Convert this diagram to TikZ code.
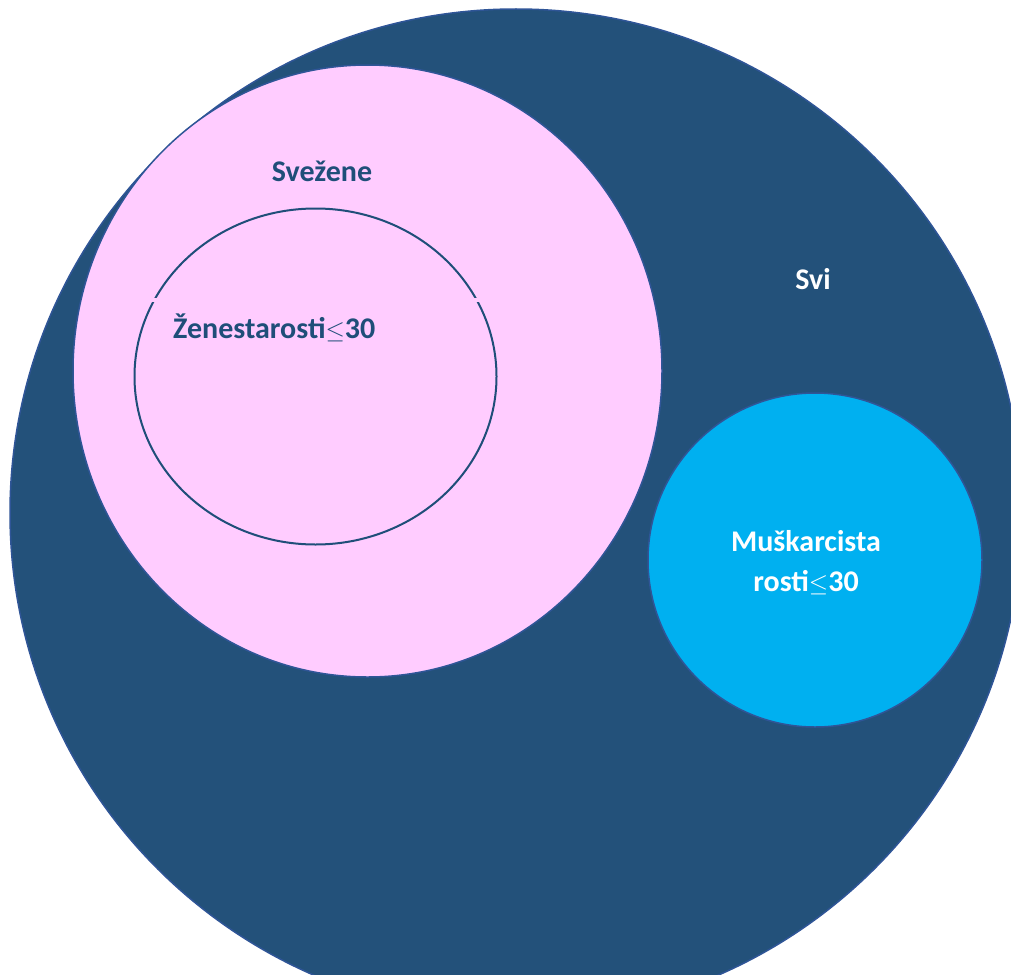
\documentclass[tikz,border=0pt]{standalone}
\usepackage{fontspec}
\setmainfont{Carlito}
\definecolor{darkfill}{RGB}{35,81,122}
\definecolor{edge}{RGB}{47,85,151}
\definecolor{txtblue}{RGB}{31,78,121}
\definecolor{pinkfill}{RGB}{255,204,255}
\definecolor{cyanfill}{RGB}{0,176,240}
\tikzset{
  setshape/.style={draw=edge, line width=1.5pt},
  lbl/.style={font=\fontsize{30}{40}\selectfont\bfseries, inner sep=0pt, align=center},
}
\begin{document}
\begin{tikzpicture}[x=1pt,y=-1pt]
\useasboundingbox (0,0) rectangle (1011,974);
\begin{scope}
\clip (0,0) rectangle (1011,974);
\draw[setshape, fill=darkfill] (516,513) ellipse [x radius=506, y radius=504];
\end{scope}
\draw[setshape, fill=pinkfill] (367.5,371) ellipse [x radius=294.5, y radius=306];
\draw[draw=txtblue, line width=2pt] (315.5,376.5) ellipse [x radius=181, y radius=168];
\fill[pinkfill] (148,298) rectangle (484,301.5);
\draw[setshape, fill=cyanfill] (815,560) circle [radius=167];
\node[lbl, text=txtblue] (svezene) at (322,171) {Svežene};
\node[lbl, text=white] (svi) at (813,279) {Svi};
\node[lbl, text=txtblue, anchor=west] (zene) at (173,328) {Ženestarosti$\leq$30};
\node[lbl, text=white] (musk) at (806,563) {Muškarcista\\rosti$\leq$30};
\end{tikzpicture}
\end{document}
